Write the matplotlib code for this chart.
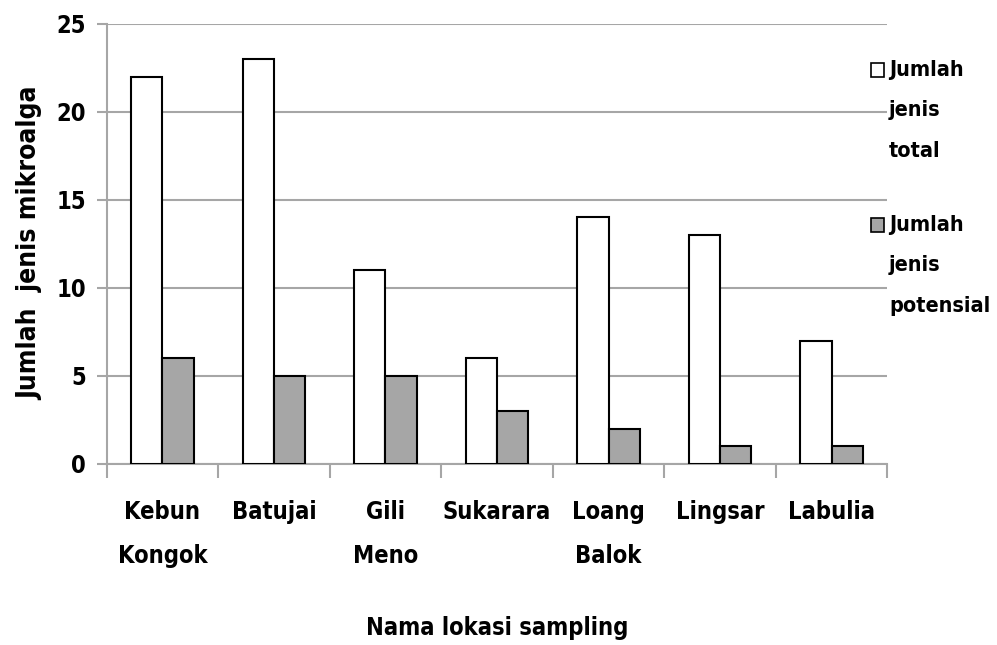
import matplotlib
matplotlib.use("Agg")
import matplotlib.pyplot as plt
import numpy as np
from matplotlib.patches import Rectangle

lokasi = ["Kebun\nKongok", "Batujai", "Gili\nMeno", "Sukarara", "Loang\nBalok", "Lingsar", "Labulia"]
total = [22, 23, 11, 6, 14, 13, 7]
potensial = [6, 5, 5, 3, 2, 1, 1]
seri = ["Jumlah\njenis\ntotal", "Jumlah\njenis\npotensial"]
warna = ["white", "#a6a6a6"]

plt.rcParams["font.family"] = ["DejaVu Sans"]
plt.rcParams["font.stretch"] = "condensed"
plt.rcParams["font.weight"] = "bold"
GRID = "#a6a6a6"

fig = plt.figure(figsize=(9.97, 6.45), dpi=100)
ax = fig.add_axes([0.107, 0.281, 0.783, 0.682])

x = np.arange(len(lokasi))
w = 0.28
ax.bar(x - w / 2, total, w, color=warna[0], edgecolor="black", linewidth=1.5, zorder=3)
ax.bar(x + w / 2, potensial, w, color=warna[1], edgecolor="black", linewidth=1.5, zorder=3)

ax.set_xlim(-0.5, len(lokasi) - 0.5)
ax.set_ylim(0, 25)
ax.set_yticks(range(0, 26, 5))
ax.yaxis.grid(True, color=GRID, linewidth=1.5, zorder=0)
ax.set_axisbelow(True)

for s in ["top", "right"]:
    ax.spines[s].set_visible(False)
for s in ["left", "bottom"]:
    ax.spines[s].set_color(GRID)
    ax.spines[s].set_linewidth(1.5)

ax.set_xticks(x)
ax.set_xticklabels(lokasi, fontsize=17, linespacing=2.05)
ax.tick_params(axis="x", length=0, pad=26)
ax.set_xticks(np.arange(len(lokasi) + 1) - 0.5, minor=True)
ax.tick_params(axis="x", which="minor", length=10, width=1.5, color=GRID)
ax.tick_params(axis="y", length=7, width=1.5, color=GRID, labelsize=17, pad=8)

# judul sumbu sebagai teks figur supaya posisinya pas
fig.text(30 / 997, 1 - 243 / 645, "Jumlah  jenis mikroalga", fontsize=19,
         rotation=90, ha="center", va="center")
fig.text(497 / 997, 1 - 628 / 645, "Nama lokasi sampling", fontsize=17,
         ha="center", va="center")

# legenda manual (kotak kecil + teks tiga baris)
for i, (lbl, c) in enumerate(zip(seri, warna)):
    y0 = 1 - (70 + i * 155) / 645
    fig.patches.append(Rectangle((871 / 997, y0 - 7 / 645), 13 / 997, 14 / 645,
                                 transform=fig.transFigure, facecolor=c,
                                 edgecolor="black", linewidth=1.2))
    fig.text(889 / 997, y0 + 10 / 645, lbl, fontsize=15.5, va="top", ha="left",
             linespacing=2.27)

fig.savefig("out.png", dpi=100)
